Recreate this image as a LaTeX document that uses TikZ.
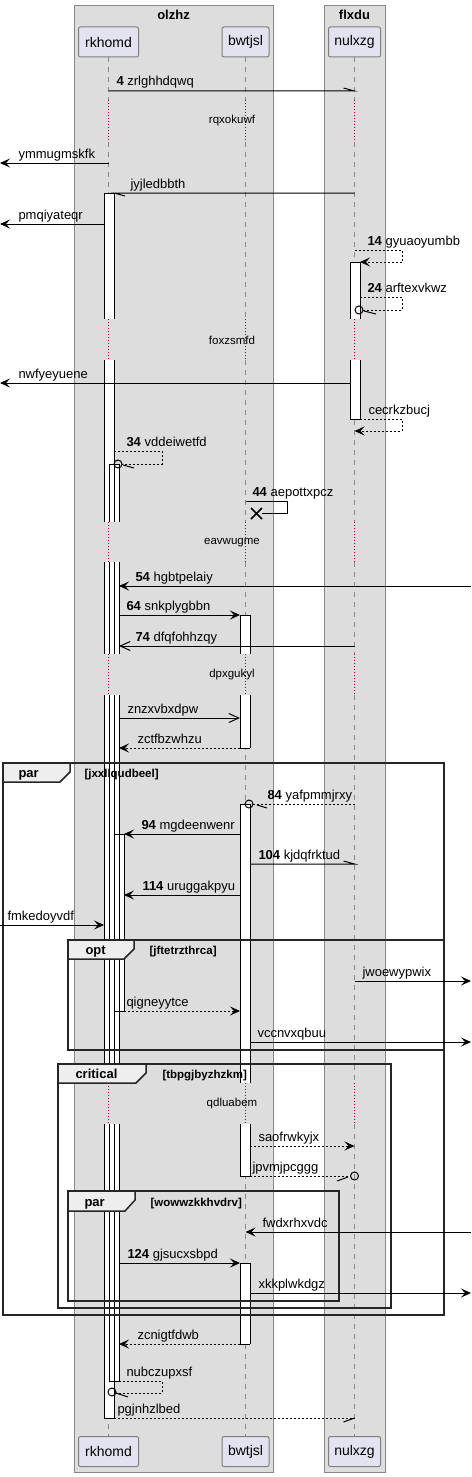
\documentclass[tikz,border=0pt]{standalone}
\usepackage{fontspec}
\setmainfont{Liberation Sans}
\usetikzlibrary{arrows.meta}

\definecolor{grpfill}{HTML}{DDDDDD}
\definecolor{grpline}{HTML}{888888}
\definecolor{partfill}{HTML}{E2E2F0}
\definecolor{partline}{HTML}{7F7F7F}
\definecolor{delaycol}{HTML}{A80036}
\definecolor{tabfill}{HTML}{EEEEEE}

\begin{document}
\begin{tikzpicture}[x=1pt, y=-1pt, line width=1pt,
        part/.style = {draw=partline, fill=partfill, rounded corners=2pt, minimum height=30pt, inner sep=0pt, font=\fontsize{14}{16}\selectfont},
        grp/.style = {draw=grpline, fill=grpfill},
        grptitle/.style = {inner sep=0pt, font=\bfseries\fontsize{13}{15}\selectfont},
        life/.style = {draw=grpline, dash pattern=on 5pt off 5pt},
        delay/.style = {draw=delaycol, dash pattern=on 1pt off 2pt},
        delaytext/.style = {inner sep=0pt, font=\fontsize{11.5}{13}\selectfont},
        act/.style = {draw=black},
        sync/.style = {-{Stealth[length=10pt, width=9pt, inset=4pt]}},
        async/.style = {-{Straight Barb[length=10pt, width=9pt]}},
        ret/.style = {dash pattern=on 2pt off 2pt},
        lbl/.style = {anchor=base west, inner sep=0pt, font=\fontsize{13}{15}\selectfont},
        frame/.style = {draw=black!85, line width=1.5pt},
        tab/.style = {draw=black!85, line width=1.5pt, fill=tabfill},
        tabtitle/.style = {anchor=base west, inner sep=0pt, font=\bfseries\fontsize{13}{15}\selectfont},
        cond/.style = {anchor=base west, inner sep=0pt, font=\bfseries\fontsize{11.5}{13}\selectfont}
    ]
        \useasboundingbox (0,0) rectangle (471,1477);

        % boxes
        \draw[grp] (74,6) rectangle (273,1472);
        \draw[grp] (324,6) rectangle (385,1472);
        \node[grptitle] (olzhz) at (173.5,15) {olzhz};
        \node[grptitle] (flxdu) at (354.5,15) {flxdu};

        % participants
        \node[part, minimum width=60pt] (rkT) at (108.5,42) {rkhomd};
        \node[part, minimum width=47pt] (bwT) at (245.5,42) {bwtjsl};
        \node[part, minimum width=52pt] (nuT) at (354.5,42) {nulxzg};
        \node[part, minimum width=60pt] (rkB) at (108.5,1451.5) {rkhomd};
        \node[part, minimum width=47pt] (bwB) at (245.5,1451.5) {bwtjsl};
        \node[part, minimum width=52pt] (nuB) at (354.5,1451.5) {nulxzg};

        % lifelines and delays
        \foreach \p in {rk, bw, nu} {
            \foreach \ya/\yb in {57/100, 142/319, 360/522, 562/654, 695/1083, 1124/1436}
                \draw[life] (\p T.south |- 0,\ya) -- (\p T.south |- 0,\yb);
            \foreach \ya/\yb in {100/142, 319/360, 522/562, 654/695, 1083/1124}
                \draw[delay] (\p T.south |- 0,\ya) -- (\p T.south |- 0,\yb);
        }
        \node[delaytext] (d1) at (232,121) {rqxokuwf};
        \node[delaytext] (d2) at (232,340) {foxzsmfd};
        \node[delaytext] (d3) at (232,543) {eavwugme};
        \node[delaytext] (d4) at (232,675) {dpxgukyl};
        \node[delaytext] (d5) at (232,1104) {qdluabem};

        % activations
        \foreach \x/\ya/\yb in {104/193/319, 104/360/522, 104/562/654, 104/695/1083, 104/1124/1418,
                109/464/522, 109/562/654, 109/695/1083, 109/1124/1381, 114/834/1011,
                240/615/654, 240/695/748, 240/804/1083, 240/1124/1176, 240/1263/1344,
                350/262/319, 350/360/419}
            \fill[white] (\x,\ya) rectangle (\x+10,\yb);
        \foreach \x/\ya/\yb in {104/193/319, 104/360/522, 104/562/654, 104/695/1083, 104/1124/1418,
                109/464/522, 109/562/654, 109/695/1083, 109/1124/1381, 114/834/1011,
                240/615/654, 240/695/748, 240/804/1083, 240/1124/1176, 240/1263/1344,
                350/262/319, 350/360/419}
            \draw[act] (\x,\ya) -- (\x,\yb) (\x+10,\ya) -- (\x+10,\yb);
        \foreach \x/\y in {104/193, 104/1418, 109/464, 109/1381, 114/834, 114/1011,
                240/615, 240/748, 240/804, 240/1176, 240/1263, 240/1344, 350/262, 350/419}
            \draw[act] (\x,\y) -- (\x+10,\y);

        % frames
        \draw[frame] (3,763) rectangle (444,1315);
        \draw[tab] (3,763) -- (70,763) -- (70,772) -- (60,782) -- (3,782) -- cycle;
        \node[tabtitle] (par1) at (18,777) {par};
        \node[cond] (c1) at (84,777) {[jxxllqudbeel]};
        \draw[frame] (68,940) rectangle (444,1050);
        \draw[tab] (68,940) -- (134,940) -- (134,949) -- (124,959) -- (68,959) -- cycle;
        \node[tabtitle] (opt1) at (85,954) {opt};
        \node[cond] (c2) at (149,954) {[jftetrzthrca]};
        \draw[frame] (58,1064) rectangle (391,1308);
        \draw[tab] (58,1064) -- (146,1064) -- (146,1073) -- (136,1083) -- (58,1083) -- cycle;
        \node[tabtitle] (crit1) at (75,1078) {critical};
        \node[cond] (c3) at (162,1078) {[tbpgjbyzhzkm]};
        \draw[frame] (68,1191) rectangle (339,1301);
        \draw[tab] (68,1191) -- (135,1191) -- (135,1200) -- (125,1211) -- (68,1211) -- cycle;
        \node[tabtitle] (par2) at (84,1206) {par};
        \node[cond] (c4) at (150,1206) {[wowwzkkhvdrv]};

        % messages
        \draw (108.5,91) -- (354.5,91) -- ++(-11,-3);
        \node[lbl] (m4) at (116,86) {\textbf{4} zrlghhdqwq};
        \draw[sync] (108.5,163) -- (0,163);
        \node[lbl] (m5) at (18,158) {ymmugmskfk};
        \draw (354.5,193) -- (114,193) -- ++(11,3);
        \node[lbl] (m6) at (130,188) {jyjledbbth};
        \draw[sync] (104,224) -- (0,224);
        \node[lbl] (m7) at (18,219) {pmqiyateqr};
        \draw[sync, ret] (354.5,250) -- (402,250) -- (402,262) -- (360,262);
        \node[lbl] (m14) at (367,245) {\textbf{14} gyuaoyumbb};
        \draw[ret] (360,297) -- (402,297) -- (402,310) -- (363,310);
        \draw (359,310) circle (4pt) (364,311) -- (376,314);
        \node[lbl] (m24) at (367,292) {\textbf{24} arftexvkwz};
        \draw[sync] (350,383) -- (0,383);
        \node[lbl] (m8) at (18,378) {nwfyeyuene};
        \draw[sync, ret] (360,419) -- (402,419) -- (402,431) -- (354.5,431);
        \node[lbl] (m9) at (368,414) {cecrkzbucj};
        \draw[ret] (114,451) -- (162,451) -- (162,464) -- (122,464);
        \draw (118,464) circle (4pt) (123,465) -- (134,468);
        \node[lbl] (m34) at (126,446) {\textbf{34} vddeiwetfd};
        \draw (245.5,501) -- (287,501) -- (287,513) -- (262,513);
        \draw[line width=1.5pt] (251,508) -- (262,519) (251,519) -- (262,508);
        \node[lbl] (m44) at (252,496) {\textbf{44} aepottxpcz};
        \draw[sync] (471,586) -- (119,586);
        \node[lbl] (m54) at (135,581) {\textbf{54} hgbtpelaiy};
        \draw[sync] (119,615) -- (240,615);
        \node[lbl] (m64) at (126,610) {\textbf{64} snkplygbbn};
        \draw[async] (354.5,646) -- (119,646);
        \node[lbl] (m74) at (135,641) {\textbf{74} dfqfohhzqy};
        \draw[async] (119,718) -- (240,718);
        \node[lbl] (m10) at (127,713) {znzxvbxdpw};
        \draw[sync, ret] (240,748) -- (119,748);
        \node[lbl] (m11) at (137,743) {zctfbzwhzu};
        \draw[ret] (354.5,804) -- (253,804);
        \draw (249,804) circle (4pt) (257,805) -- (267,808);
        \node[lbl] (m84) at (267,799) {\textbf{84} yafpmmjrxy};
        \draw[sync] (240,834) -- (124,834);
        \node[lbl] (m94) at (141,829) {\textbf{94} mgdeenwenr};
        \draw (250,864) -- (354.5,864) -- ++(-11,-3);
        \node[lbl] (m104) at (258,859) {\textbf{104} kjdqfrktud};
        \draw[sync] (240,895) -- (124,895);
        \node[lbl] (m114) at (142,890) {\textbf{114} uruggakpyu};
        \draw[sync] (0,925) -- (104,925);
        \node[lbl] (m12) at (7,920) {fmkedoyvdf};
        \draw[sync] (354.5,981) -- (471,981);
        \node[lbl] (m13) at (362,976) {jwoewypwix};
        \draw[sync, ret] (124,1011) -- (240,1011);
        \node[lbl] (m15) at (126,1006) {qigneyytce};
        \draw[sync] (250,1042) -- (471,1042);
        \node[lbl] (m16) at (257,1037) {vccnvxqbuu};
        \draw[sync, ret] (250,1146) -- (354.5,1146);
        \node[lbl] (m17) at (258,1141) {saofrwkyjx};
        \draw[ret] (250,1176) -- (350,1176);
        \draw (354.5,1176) circle (4pt) (348,1177) -- (337,1181);
        \node[lbl] (m18) at (252,1171) {jpvmjpcggg};
        \draw[sync] (471,1232) -- (245.5,1232);
        \node[lbl] (m19) at (262,1227) {fwdxrhxvdc};
        \draw[sync] (119,1263) -- (240,1263);
        \node[lbl] (m124) at (127,1258) {\textbf{124} gjsucxsbpd};
        \draw[sync] (250,1293) -- (471,1293);
        \node[lbl] (m20) at (258,1288) {xkkplwkdgz};
        \draw[sync, ret] (240,1344) -- (119,1344);
        \node[lbl] (m21) at (137,1339) {zcnigtfdwb};
        \draw[ret] (119,1381) -- (162,1381) -- (162,1393) -- (116,1393);
        \draw (112,1392) circle (4pt) (116,1393) -- (128,1397);
        \node[lbl] (m22) at (126,1376) {nubczupxsf};
        \draw[ret] (114,1418) -- (354.5,1418);
        \draw (354.5,1418) -- ++(-11,4);
        \node[lbl] (m23) at (117,1413) {pgjnhzlbed};
    \end{tikzpicture}
\end{document}
